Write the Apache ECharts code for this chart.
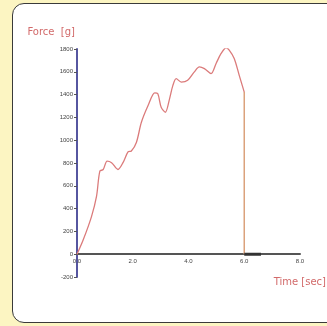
<!DOCTYPE html>
<html>
<head>
<meta charset="utf-8">
<script src="https://cdn.jsdelivr.net/npm/echarts@6/dist/echarts.min.js"></script>
<style>
  html, body { margin: 0; padding: 0; background: #fcf5c2; }
  #wrap { position: relative; width: 327px; height: 326px; overflow: hidden; }
  #panel {
    position: absolute; left: 12px; top: 3px; width: 330px; height: 318px;
    background: #fff; border: 1.5px solid #3a3a3a; border-radius: 12px;
  }
  #chart { position: absolute; left: 0; top: 0; width: 327px; height: 326px; }
</style>
</head>
<body>
<div id="wrap">
  <div id="panel"></div>
  <div id="chart"></div>
</div>
<script>
// time (sec) and force (g)
const timeSec = [0, 0.22, 0.52, 0.70, 0.82, 0.94, 1.08, 1.24, 1.47, 1.65, 1.83, 1.95, 2.13, 2.31, 2.55, 2.79, 2.90, 3.02, 3.17, 3.32, 3.44, 3.56, 3.74, 3.97, 4.21, 4.39, 4.57, 4.81, 4.99, 5.17, 5.35, 5.46, 5.64, 5.82, 6.0];
const forceG = [0, 124, 330, 507, 728, 743, 817, 803, 743, 803, 897, 905, 980, 1157, 1304, 1416, 1407, 1289, 1245, 1363, 1481, 1540, 1510, 1525, 1599, 1643, 1628, 1584, 1673, 1761, 1811, 1790, 1717, 1569, 1422];
const dropTime = [6.0, 6.0];
const dropForce = [1422, 0];
const tailTime = [6.0, 6.6];
const tailForce = [0, 0];
const xTicks = [0, 2, 4, 6, 8];

const chart = echarts.init(document.getElementById('chart'));
const pairs = (xs, ys) => xs.map((x, i) => [x, ys[i]]);

chart.setOption({
  animation: false,
  backgroundColor: 'transparent',
  grid: { left: 77, right: 27, top: 49, bottom: 49 },
  xAxis: {
    type: 'value',
    min: xTicks[0],
    max: xTicks[xTicks.length - 1],
    interval: 2,
    axisLine: { onZero: true, lineStyle: { color: '#555', width: 2 } },
    axisTick: { show: false },
    axisLabel: { fontSize: 6, color: '#444', margin: -19, formatter: (v) => v.toFixed(1) },
    splitLine: { show: false }
  },
  yAxis: {
    type: 'value',
    min: -200,
    max: 1800,
    interval: 200,
    name: 'Force  [g]',
    nameLocation: 'end',
    nameGap: 12,
    nameTextStyle: { color: '#d26a6a', fontSize: 10, align: 'right', padding: [0, 2, 0, 0], fontFamily: 'DejaVu Sans' },
    axisLine: { show: true, lineStyle: { color: '#5656a0', width: 2 } },
    axisTick: { show: true, length: 3, lineStyle: { color: '#555' } },
    axisLabel: { fontSize: 6, color: '#444', margin: 4, formatter: (v) => String(v) },
    splitLine: { show: false }
  },
  graphic: [{
    type: 'text',
    right: 1,
    top: 277,
    style: { text: 'Time [sec]', fill: '#d26a6a', font: '10px "DejaVu Sans"' }
  }],
  series: [
    {
      name: 'Force',
      type: 'line',
      data: pairs(timeSec, forceG),
      smooth: 0.3,
      symbol: 'none',
      lineStyle: { color: '#db7b7b', width: 1.3 }
    },
    {
      name: 'drop',
      type: 'line',
      data: pairs(dropTime, dropForce),
      symbol: 'none',
      lineStyle: { color: '#dba27c', width: 1.5 }
    },
    {
      name: 'tail',
      type: 'line',
      data: pairs(tailTime, tailForce),
      symbol: 'none',
      z: 5,
      lineStyle: { color: '#333', width: 3 }
    }
  ]
});
</script>
</body>
</html>
